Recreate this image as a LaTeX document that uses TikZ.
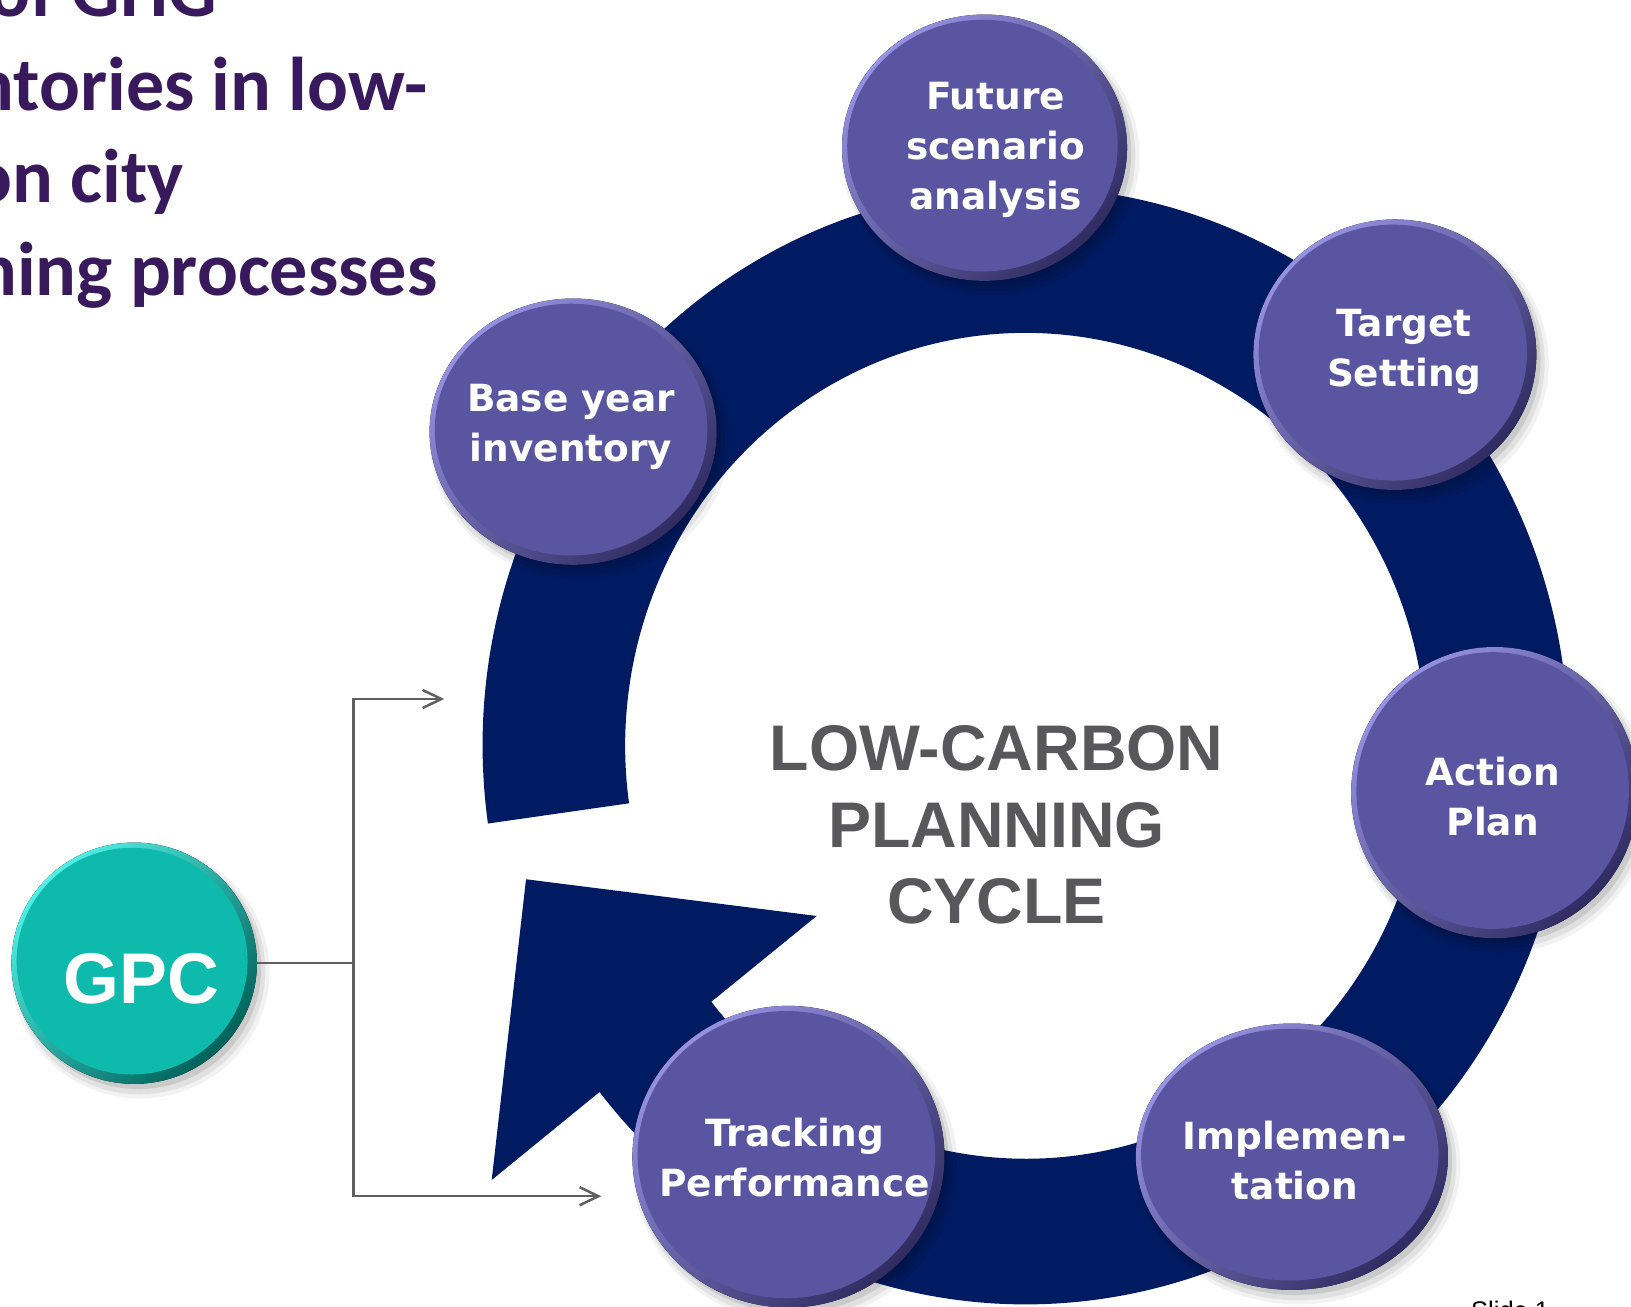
\documentclass[tikz,border=0pt]{standalone}
\usepackage{fontspec}
\setmainfont{Liberation Sans}
\newfontfamily\btnfont{DejaVu Sans}
\newfontfamily\titlefont{Carlito}
\usetikzlibrary{arrows.meta,shapes.geometric}
\definecolor{navy}{RGB}{0,27,98}
\definecolor{pface}{RGB}{90,85,160}
\definecolor{plight}{RGB}{150,145,225}
\definecolor{pdark}{RGB}{48,44,98}
\definecolor{tface}{RGB}{14,186,172}
\definecolor{tlight}{RGB}{80,240,230}
\definecolor{tdark}{RGB}{0,98,90}
\definecolor{titlecol}{RGB}{56,26,92}
\definecolor{graytext}{RGB}{88,88,90}
\definecolor{conncol}{RGB}{95,95,95}
\newcommand\btn[6]{%
  \fill[black,opacity=0.05] (#2+6,#3-8) ellipse [x radius=#4+6, y radius=#5+6];
  \fill[black,opacity=0.07] (#2+5,#3-7) ellipse [x radius=#4+3, y radius=#5+3];
  \fill[black,opacity=0.10] (#2+4,#3-5) ellipse [x radius=#4, y radius=#5];
  \fill[top color=#6light, bottom color=#6dark, shading angle=45] (#2,#3) ellipse [x radius=#4, y radius=#5];
  \fill[#6face] (#2-2,#3+2) ellipse [x radius=#4-7, y radius=#5-7];
  \node[ellipse, minimum width=#4*1pt, minimum height=#5*1pt, inner sep=0pt] (#1) at (#2,#3) {};
}
\begin{document}
\begin{tikzpicture}[x=0.5pt,y=0.5pt,
  btntext/.style={text=white, font=\btnfont\bfseries\fontsize{18}{24}\selectfont, align=center, inner sep=0pt},
  titletext/.style={text=titlecol, font=\titlefont\bfseries\fontsize{36.6}{45}\selectfont, anchor=base east, inner sep=0pt},
  conn/.style={draw=conncol, line width=1.2pt},
  tip/.style={-{Straight Barb[length=9pt,width=8.7pt]}}]
\useasboundingbox (0,-1256) rectangle (1568,0);
\clip (0,-1256) rectangle (1568,0);

% title
\node[titletext] (t1) at (209,-16) {Role of GHG};
\node[titletext] (t2) at (411,-106) {inventories in low-};
\node[titletext] (t3) at (177,-195) {carbon city};
\node[titletext] (t4) at (421,-284) {planning processes};

% ring with arrow
\fill[navy] ([shift={(986,-717)}]188:522 and 537)
  arc[start angle=188, end angle=-141.7, x radius=522, y radius=537]
  -- (472.7,-1134.4) -- (505.7,-845.3) -- (785.1,-880.6)
  -- ([shift={(986,-717)}]-141.7:385 and 397)
  arc[start angle=-141.7, end angle=188, x radius=385, y radius=397]
  -- cycle;

% center title
\node[text=graytext, font=\bfseries\fontsize{31}{36.85}\selectfont, align=center, inner sep=0pt] (cycle) at (958,-793) {LOW-CARBON\\PLANNING\\CYCLE};

% buttons
\btn{future}{946.5}{-142}{137}{128}{p}
\btn{target}{1341}{-341}{136}{130}{p}
\btn{action}{1437}{-762}{138}{140}{p}
\btn{impl}{1242}{-1112}{150}{128}{p}
\btn{track}{758}{-1112}{150}{145}{p}
\btn{base}{551}{-415}{138}{128}{p}
\btn{gpc}{129}{-926}{118}{116}{t}

\node[btntext] (tfuture) at (957,-144) {Future\\scenario\\analysis};
\node[btntext] (ttarget) at (1350,-338) {Target\\Setting};
\node[btntext] (taction) at (1435,-766) {Action\\Plan};
\node[btntext] (timpl) at (1245,-1116) {Implemen-\\tation};
\node[btntext] (ttrack) at (764,-1113) {Tracking\\Performance};
\node[btntext] (tbase) at (549,-410) {Base year\\inventory};
\node[text=white, font=\bfseries\fontsize{34.5}{40}\selectfont, inner sep=0pt] (gpctext) at (136,-941) {GPC};

% connectors
\coordinate (j) at (340,-926);
\coordinate (at) at (427,-672);
\coordinate (ab) at (578,-1150);
\draw[conn] (gpc.east) -- (gpc.east -| j);
\draw[conn,tip] (j) |- (at);
\draw[conn,tip] (j) |- (ab);

\node[font=\fontsize{12.25}{14}\selectfont, anchor=base west, inner sep=0pt] (slide) at (1414,-1269) {Slide 1};
\end{tikzpicture}
\end{document}
